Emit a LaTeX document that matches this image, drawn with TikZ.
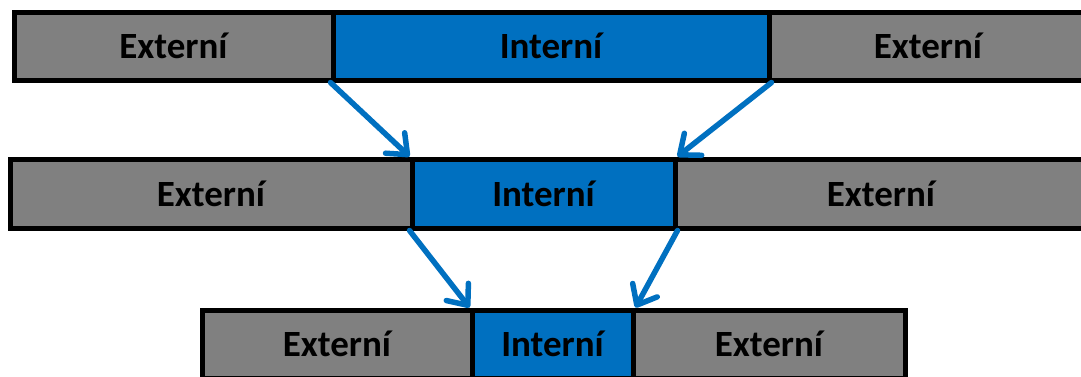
\documentclass[tikz,border=0pt]{standalone}
\usepackage{fontspec}
\setmainfont{Carlito}
\usetikzlibrary{arrows.meta}
\definecolor{boxgrey}{HTML}{808080}
\definecolor{boxblue}{HTML}{0070C0}
\tikzset{
  seg/.style={draw=black, line width=5pt, inner sep=0pt, rectangle,
    font=\fontsize{37}{40}\selectfont\bfseries, text=black},
  ext/.style={seg, fill=boxgrey},
  intr/.style={seg, fill=boxblue},
  flow/.style={draw=boxblue, line width=5.5pt, line cap=round,
    -{Straight Barb[length=17pt,width=28pt,round]}}
}
\begin{document}
\begin{tikzpicture}[x=1pt,y=-1pt]
\useasboundingbox (0,0) rectangle (1081,376);
\clip (0,0) rectangle (1081,376);
% row 1
\node[ext, minimum width=319pt, minimum height=68pt] (e1l) at (173.5,46) {Externí};
\node[intr, minimum width=436pt, minimum height=68pt] (i1) at (551,46) {Interní};
\node[ext, minimum width=318pt, minimum height=68pt] (e1r) at (928,46) {Externí};
% row 2
\node[ext, minimum width=402pt, minimum height=69pt] (e2l) at (211,193.5) {Externí};
\node[intr, minimum width=263pt, minimum height=69pt] (i2) at (543.5,193.5) {Interní};
\node[ext, minimum width=412pt, minimum height=69pt] (e2r) at (881,193.5) {Externí};
% row 3
\node[ext, minimum width=270pt, minimum height=68pt] (e3l) at (337,344) {Externí};
\node[intr, minimum width=161pt, minimum height=68pt] (i3) at (552.5,344) {Interní};
\node[ext, minimum width=272pt, minimum height=68pt] (e3r) at (769,344) {Externí};
% arrows
\draw[flow] (i1.south west) -- (i2.north west);
\draw[flow] (i1.south east) -- (i2.north east);
\draw[flow] (i2.south west) -- (i3.north west);
\draw[flow] (i2.south east) -- (i3.north east);
\end{tikzpicture}
\end{document}
